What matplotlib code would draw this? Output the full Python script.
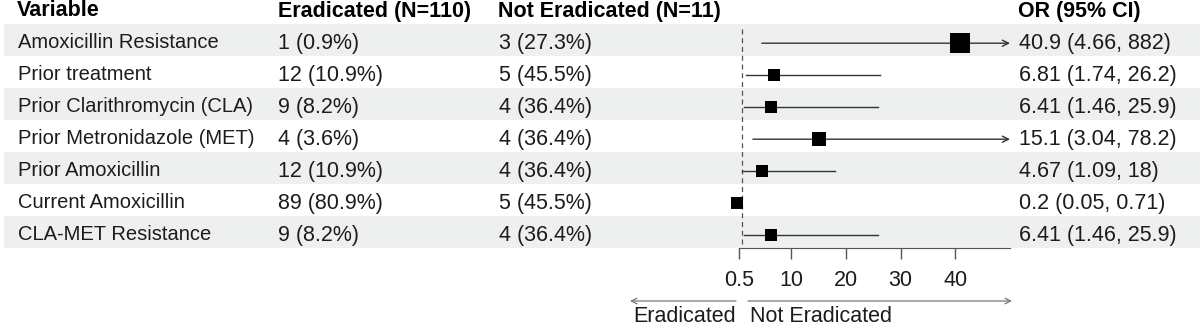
import numpy as np
import matplotlib.pyplot as plt

plt.rcParams['font.family'] = ['Liberation Sans', 'DejaVu Sans']

# table contents
variables = ["Amoxicillin Resistance", "Prior treatment", "Prior Clarithromycin (CLA)",
             "Prior Metronidazole (MET)", "Prior Amoxicillin", "Current Amoxicillin",
             "CLA-MET Resistance"]
eradicated = ["1 (0.9%)", "12 (10.9%)", "9 (8.2%)", "4 (3.6%)", "12 (10.9%)",
              "89 (80.9%)", "9 (8.2%)"]
not_eradicated = ["3 (27.3%)", "5 (45.5%)", "4 (36.4%)", "4 (36.4%)", "4 (36.4%)",
                  "5 (45.5%)", "4 (36.4%)"]
odds_ratio = [40.9, 6.81, 6.41, 15.1, 4.67, 0.2, 6.41]
ci_low = [4.66, 1.74, 1.46, 3.04, 1.09, 0.05, 1.46]
ci_high = [882, 26.2, 25.9, 78.2, 18, 0.71, 25.9]
headers = ["Variable", "Eradicated (N=110)", "Not Eradicated (N=11)", "OR (95% CI)"]
x_ticks = [0.5, 10, 20, 30, 40]
x_max = 50
ref_line = 1

W, H = 1200, 327
fig = plt.figure(figsize=(W / 100, H / 100), dpi=100)

# background layer in pixel units for bands and text
bg = fig.add_axes([0, 0, 1, 1])
bg.set_xlim(0, W)
bg.set_ylim(H, 0)
bg.axis("off")

top, pitch = 24, 32.0
n = len(variables)
txt_col = "#1c1c1c"
fs_lab = 14.5
fs = 15.5

for i in range(n):
    y0 = top + i * pitch
    if i % 2 == 0:
        bg.add_patch(plt.Rectangle((4, y0), W - 4, pitch, color="#eef0ef", lw=0, zorder=0))
    yc = y0 + pitch / 2 + 3
    bg.text(18, yc, variables[i], fontsize=fs_lab, va="center", color=txt_col)
    bg.text(278, yc, eradicated[i], fontsize=fs, va="center", color=txt_col)
    bg.text(499, yc, not_eradicated[i], fontsize=fs, va="center", color=txt_col)
    bg.text(1019, yc, f"{odds_ratio[i]:g} ({ci_low[i]:g}, {ci_high[i]:g})",
            fontsize=fs, va="center", color=txt_col)

for x, h in zip([17, 278, 498, 1018], headers):
    bg.text(x, 11, h, fontsize=fs, fontweight="bold", va="center", color="black")

# direction arrows under the axis
bg.annotate("", xy=(630, 301), xytext=(736, 301),
            arrowprops=dict(arrowstyle="->", color="#777777", lw=0.9,
                            shrinkA=0, shrinkB=0, mutation_scale=10))
bg.annotate("", xy=(1012, 301), xytext=(748, 301),
            arrowprops=dict(arrowstyle="->", color="#777777", lw=0.9,
                            shrinkA=0, shrinkB=0, mutation_scale=10))
bg.text(736, 317, "Eradicated", fontsize=fs, ha="right", va="center", color=txt_col)
bg.text(750, 317, "Not Eradicated", fontsize=fs, ha="left", va="center", color=txt_col)

# forest panel
x_left, x_right = 739, 1010
bottom = top + n * pitch
ax = fig.add_axes([x_left / W, (H - bottom) / H, (x_right - x_left) / W, (bottom - top) / H])
ax.patch.set_alpha(0)
ax.set_xlim(x_ticks[0], x_max)
ax.set_ylim(n, 0)
for s in ["top", "right", "left"]:
    ax.spines[s].set_visible(False)
ax.spines["bottom"].set_bounds(x_ticks[0], x_max)
ax.spines["bottom"].set_color("#555555")
ax.set_yticks([])
ax.set_xticks(x_ticks)
ax.set_xticklabels([f"{t:g}" for t in x_ticks])
ax.tick_params(axis="x", length=8, width=1, color="#555555", labelsize=fs,
               labelcolor=txt_col, pad=8)

ax.vlines(ref_line, 0.15, n, colors="#555555", linestyles=(0, (4, 3)), lw=0.9, zorder=1)

for i in range(n):
    y = i + 0.6
    if ci_high[i] > x_max:
        ax.annotate("", xy=(x_max, y), xytext=(ci_low[i], y),
                    arrowprops=dict(arrowstyle="->", color="#333333", lw=1,
                                    shrinkA=0, shrinkB=0, mutation_scale=11))
    else:
        ax.plot([ci_low[i], ci_high[i]], [y, y], color="#333333", lw=1, clip_on=False, zorder=2)
    size = 11 + 0.22 * odds_ratio[i]
    ax.plot(odds_ratio[i], y, marker="s", ms=size * 0.72, color="black",
            mew=0, clip_on=False, zorder=3)

fig.savefig("out.png", dpi=100)
